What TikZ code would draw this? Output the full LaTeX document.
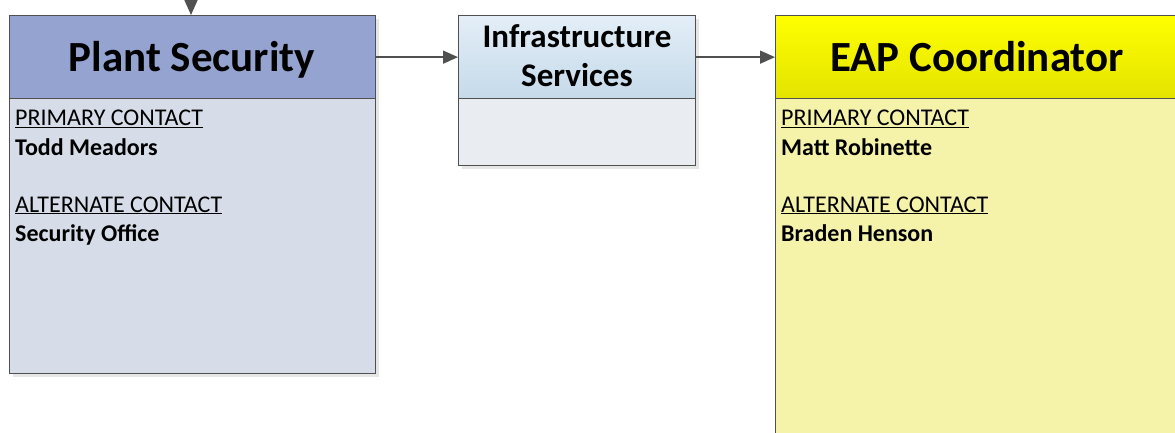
\documentclass[tikz,border=0pt]{standalone}
\usepackage{fontspec}
\setmainfont{Carlito}
\usetikzlibrary{arrows.meta}
\definecolor{psHead}{HTML}{94A3CF}
\definecolor{psBody}{HTML}{D7DDE8}
\definecolor{isHeadTop}{HTML}{E3EEF7}
\definecolor{isHeadBot}{HTML}{C5DAEA}
\definecolor{isBody}{HTML}{E9EDF2}
\definecolor{eaHeadTop}{HTML}{FFFF00}
\definecolor{eaHeadBot}{HTML}{E3E300}
\definecolor{eaBody}{HTML}{F5F3AA}
\definecolor{edge}{HTML}{505050}
\definecolor{shade}{HTML}{E6E6E6}
\tikzset{
  box/.style={draw=edge, line width=1.3pt, rectangle, inner sep=0pt, anchor=north west},
  shadowbox/.style={fill=shade, draw=none, rectangle, inner sep=0pt, anchor=north west},
  headtext/.style={anchor=base, inner sep=0pt, font=\fontsize{43}{48}\selectfont\bfseries},
  midtext/.style={anchor=base, inner sep=0pt, font=\fontsize{33}{40}\selectfont\bfseries},
  bodytext/.style={anchor=base west, inner sep=0pt, font=\fontsize{24}{29}\selectfont},
  conn/.style={draw=edge, line width=1.5pt, -{Triangle[length=15pt,width=13pt]}},
}
\begin{document}
\begin{tikzpicture}[x=1pt,y=-1pt]
\useasboundingbox (0,0) rectangle (1175,433);
% shadows
\node[shadowbox, minimum width=366pt, minimum height=358pt] at (13,19) {};
\node[shadowbox, minimum width=237pt, minimum height=150pt] at (462,19) {};
% Plant Security
\node[box, fill=psHead, minimum width=366pt, minimum height=83pt] (psh) at (9,15) {};
\node[headtext] (pstitle) at (192,72) {Plant Security};
\node[box, fill=psBody, minimum width=366pt, minimum height=275pt] (psb) at (9,98) {};
\node[bodytext] (ps1) at (15,126) {\underline{PRIMARY CONTACT}};
\node[bodytext] (ps2) at (15,155) {\textbf{Todd Meadors}};
\node[bodytext] (ps3) at (15,212) {\underline{ALTERNATE CONTACT}};
\node[bodytext] (ps4) at (15,241) {\textbf{Security Office}};
% Infrastructure Services
\node[box, top color=isHeadTop, bottom color=isHeadBot, minimum width=237pt, minimum height=83pt] (ish) at (458,15) {};
\node[midtext] (istitle1) at (577,48) {Infrastructure};
\node[midtext] (istitle2) at (577,87) {Services};
\node[box, fill=isBody, minimum width=237pt, minimum height=67pt] (isb) at (458,98) {};
% EAP Coordinator
\node[box, top color=eaHeadTop, bottom color=eaHeadBot, minimum width=420pt, minimum height=83pt] (eah) at (775,15) {};
\node[headtext] (eatitle) at (977,72) {EAP Coordinator};
\node[box, fill=eaBody, minimum width=420pt, minimum height=360pt] (eab) at (775,98) {};
\node[bodytext] (ea1) at (781,126) {\underline{PRIMARY CONTACT}};
\node[bodytext] (ea2) at (781,155) {\textbf{Matt Robinette}};
\node[bodytext] (ea3) at (781,212) {\underline{ALTERNATE CONTACT}};
\node[bodytext] (ea4) at (781,241) {\textbf{Braden Henson}};
% connectors
\coordinate (topin) at (191,-2);
\draw[conn] (topin) -- (psh.north -| topin);
\draw[conn] (psh.east) -- (ish.west);
\draw[conn] (ish.east) -- (eah.west);
\end{tikzpicture}
\end{document}
